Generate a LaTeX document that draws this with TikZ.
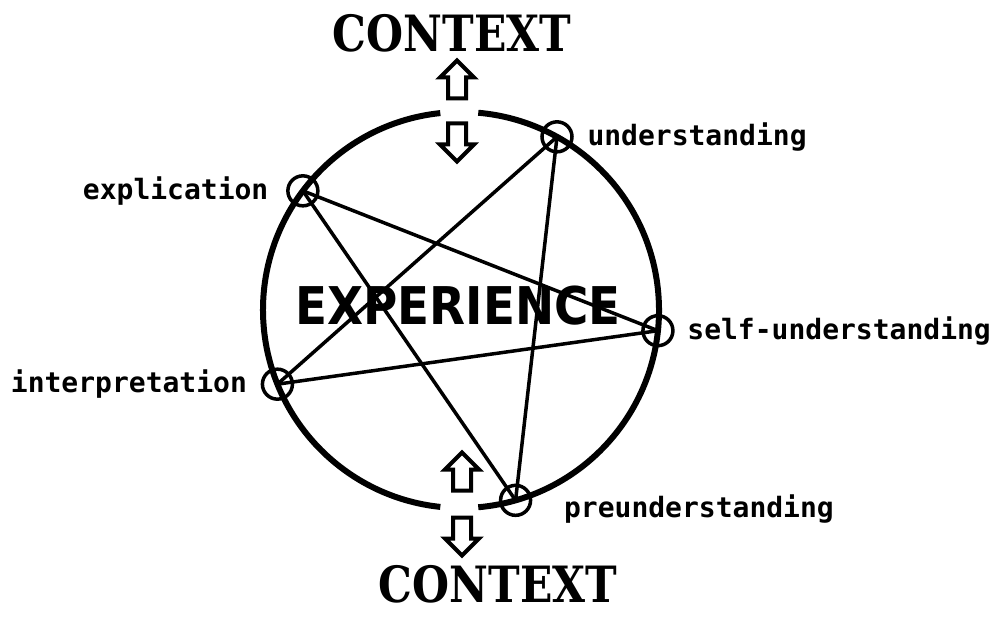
\documentclass[tikz,border=0pt]{standalone}
\usepackage{fontspec}
\usetikzlibrary{positioning}
\usetikzlibrary{shapes.arrows}

\newfontfamily\phasefont{DejaVu Sans Mono}
\newfontfamily\ctxfont{DejaVu Serif}
\newfontfamily\expfont{DejaVu Sans}

\tikzset{
    station/.style={circle,draw,line width=3.5pt,minimum size=30pt,inner sep=0pt},
    phase/.style={font=\phasefont\bfseries\fontsize{28}{30}\selectfont,inner sep=0pt},
    ctx/.style={font=\ctxfont\bfseries\fontsize{50}{56}\selectfont,inner sep=0pt},
    hollow/.style={single arrow,draw,line width=4pt,inner sep=7pt,
        single arrow head extend=8pt,minimum height=38pt},
}

\begin{document}
\begin{tikzpicture}[x=1pt,y=1pt,line width=3.5pt]
    \useasboundingbox (0,0) rectangle (998,616);
    \coordinate (c) at (461,306);

    % the circle, open at top and bottom
    \draw[line width=6pt] ([shift={(96:198)}]c) arc[start angle=96,end angle=264,radius=198];
    \draw[line width=6pt] ([shift={(-85:198)}]c) arc[start angle=-85,end angle=85,radius=198];

    \node[station] (und) at ([shift={(61:198)}]c) {};
    \node[station] (expl) at ([shift={(143:198)}]c) {};
    \node[station] (self) at ([shift={(-6:198)}]c) {};
    \node[station] (interp) at ([shift={(202:198)}]c) {};
    \node[station] (pre) at ([shift={(-74:198)}]c) {};

    \node[phase,right=12pt of und] (undl) {understanding};
    \node[phase,left=16pt of expl] (expll) {explication};
    \node[phase,right=11pt of self] (selfl) {self-understanding};
    \node[phase,left=12pt of interp] (interpl) {interpretation};
    \node[phase,right=30pt of pre,yshift=-9pt] (prel) {preunderstanding};

    % star
    \draw (und.center) -- (pre.center);
    \draw (und.center) -- (interp.center);
    \draw (self.center) -- (interp.center);
    \draw (self.center) -- (expl.center);
    \draw (pre.center) -- (expl.center);

    \node[font=\expfont\bfseries\fontsize{52}{56}\selectfont,inner sep=0pt] (exper) at (458,310) {\scalebox{0.9}[1]{EXPERIENCE}};

    \node[ctx] (ctxtop) at (452,583) {\scalebox{0.85}[1]{CONTEXT}};
    \node[ctx] (ctxbot) at (498,32) {\scalebox{0.85}[1]{CONTEXT}};

    \node[hollow,shape border rotate=90] (topup) at (457,532) {};
    \node[hollow,shape border rotate=270] (topdown) at (457,478) {};
    \node[hollow,shape border rotate=90] (botup) at (462,140) {};
    \node[hollow,shape border rotate=270] (botdown) at (462,84) {};
\end{tikzpicture}
\end{document}
